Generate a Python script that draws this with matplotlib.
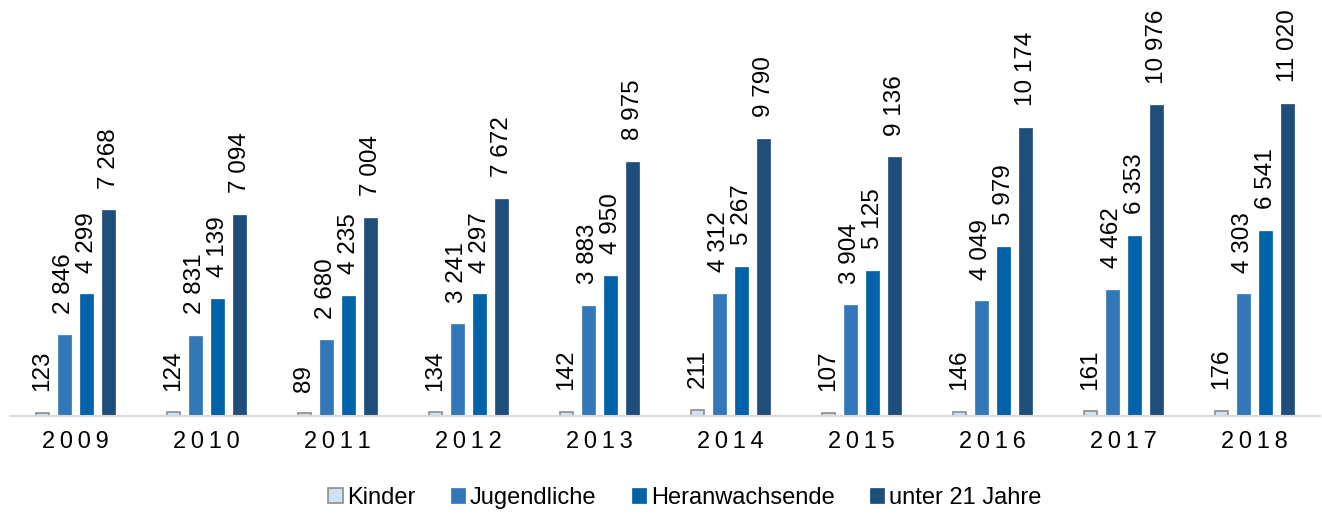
import matplotlib
matplotlib.use("Agg")
import matplotlib.pyplot as plt
import numpy as np

years = ["2009", "2010", "2011", "2012", "2013", "2014", "2015", "2016", "2017", "2018"]
kinder = [123, 124, 89, 134, 142, 211, 107, 146, 161, 176]
jugendliche = [2846, 2831, 2680, 3241, 3883, 4312, 3904, 4049, 4462, 4303]
heranwachsende = [4299, 4139, 4235, 4297, 4950, 5267, 5125, 5979, 6353, 6541]
unter21 = [7268, 7094, 7004, 7672, 8975, 9790, 9136, 10174, 10976, 11020]
series_names = ["Kinder", "Jugendliche", "Heranwachsende", "unter 21 Jahre"]

plt.rcParams['font.family'] = ['Liberation Sans', 'DejaVu Sans']

fig = plt.figure(figsize=(13.22, 5.15), dpi=100)
ax = fig.add_axes([10/1322, 99/515, 1310/1322, 416/515])

series = [kinder, jugendliche, heranwachsende, unter21]
colors = ["#cfe2f3", "#3277b8", "#0062a8", "#1f4e7a"]
edges = ["#8c8c8c", "#3277b8", "#0062a8", "#1f4e7a"]
x = np.arange(len(years))
step = 0.168
width = 0.092

def fmt(v):
    return f"{v:,}".replace(",", " ")

for i, (vals, c, ec, name) in enumerate(zip(series, colors, edges, series_names)):
    pos = x + (i - 1.5) * step
    ax.bar(pos, vals, width=width, color=c, edgecolor=ec,
           linewidth=1.2 if i == 0 else 0.5, label=name, zorder=2)
    for p, v in zip(pos, vals):
        ax.annotate(fmt(v), (p, v), xytext=(0, 15.5), textcoords="offset points",
                    rotation=90, ha="center", va="bottom", fontsize=17.5)

ax.set_xlim(-0.5, len(years) - 0.5)
ax.set_ylim(0, 14684)
for s in ["top", "right", "left"]:
    ax.spines[s].set_visible(False)
ax.spines["bottom"].set_color("#d9d9d9")
ax.spines["bottom"].set_linewidth(1.5)
ax.set_yticks([])
ax.set_xticks(x)
ax.set_xticklabels(["\u2009".join(y) for y in years], fontsize=17)
ax.tick_params(axis="x", length=0, pad=11)

leg = fig.legend(loc="center", bbox_to_anchor=(0.518, 1 - 498/515), ncol=4,
                 frameon=False, fontsize=17, handlelength=0.6, handleheight=0.6,
                 handletextpad=0.2, columnspacing=1.5)
for h in leg.legend_handles:
    pass

fig.savefig("out.png", dpi=100)
